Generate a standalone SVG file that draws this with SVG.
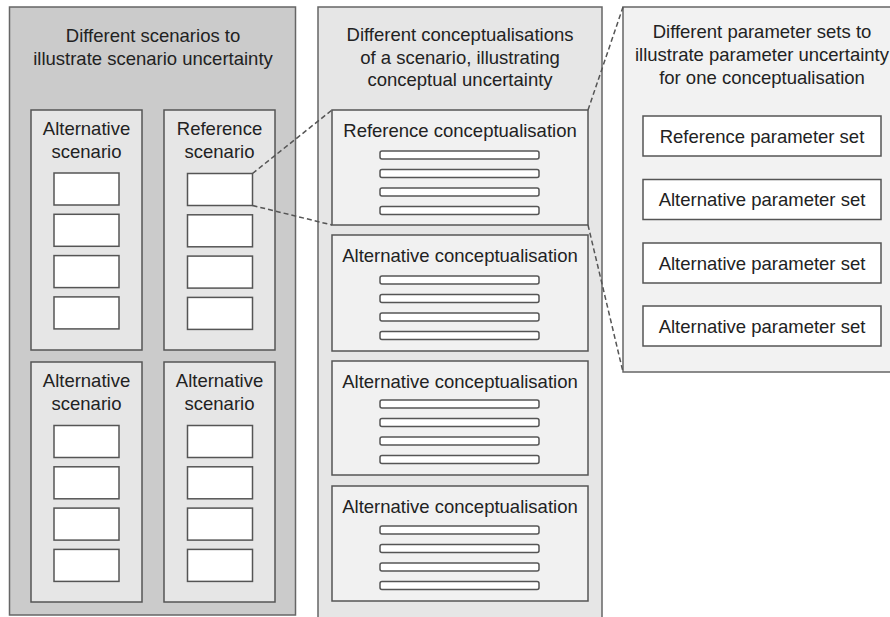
<svg xmlns="http://www.w3.org/2000/svg" width="890" height="617" viewBox="0 0 890 617">
<style>
text{font-family:"Liberation Sans",Arial,sans-serif;font-size:18.5px;fill:#222;text-anchor:middle}
.panelL{fill:#cbcbcb;stroke:#666;stroke-width:1.5}
.panelM{fill:#e6e6e6;stroke:#666;stroke-width:1.5}
.panelR{fill:#f2f2f2;stroke:#666;stroke-width:1.5}
.inL{fill:#e6e6e6;stroke:#555;stroke-width:1.5}
.inM{fill:#f1f1f1;stroke:#555;stroke-width:1.5}
.wb{fill:#fff;stroke:#555;stroke-width:1.5}
.bar{fill:#fff;stroke:#555;stroke-width:1.5}
.dash{fill:none;stroke:#555;stroke-width:1.5;stroke-dasharray:5 3}
</style>
<defs>
<g id="bars">
<rect class="bar" x="380" y="0" width="159" height="8" rx="2"/>
<rect class="bar" x="380" y="18.5" width="159" height="8" rx="2"/>
<rect class="bar" x="380" y="37" width="159" height="8" rx="2"/>
<rect class="bar" x="380" y="55.5" width="159" height="8" rx="2"/>
</g>
<g id="sbox">
<rect class="wb" x="0" y="0" width="65" height="32"/>
<rect class="wb" x="0" y="41.3" width="65" height="32"/>
<rect class="wb" x="0" y="82.6" width="65" height="32"/>
<rect class="wb" x="0" y="123.9" width="65" height="32"/>
</g>
</defs>

<g id="scenarios">
<rect class="panelL" x="9.5" y="7" width="286" height="608"/>
<text x="153" y="42">Different scenarios to</text>
<text x="153" y="65">illustrate scenario uncertainty</text>
</g>
<g id="alt-scenario-1">
<rect class="inL" x="31" y="110" width="111" height="240"/>
<text x="86.5" y="135">Alternative</text>
<text x="86.5" y="158">scenario</text>
<use href="#sbox" x="54" y="173"/>
</g>
<g id="ref-scenario">
<rect class="inL" x="164" y="110" width="111" height="240"/>
<text x="219.5" y="135">Reference</text>
<text x="219.5" y="158">scenario</text>
<use href="#sbox" x="187.5" y="173.5"/>
</g>
<g id="alt-scenario-2">
<rect class="inL" x="31" y="362" width="111" height="240"/>
<text x="86.5" y="387">Alternative</text>
<text x="86.5" y="410">scenario</text>
<use href="#sbox" x="54" y="425.5"/>
</g>
<g id="alt-scenario-3">
<rect class="inL" x="164" y="362" width="111" height="240"/>
<text x="219.5" y="387">Alternative</text>
<text x="219.5" y="410">scenario</text>
<use href="#sbox" x="187.5" y="425.5"/>
</g>

<g id="conceptualisations">
<rect class="panelM" x="318" y="7" width="284" height="620"/>
<text x="460" y="41">Different conceptualisations</text>
<text x="460" y="63.5">of a scenario, illustrating</text>
<text x="460" y="86">conceptual uncertainty</text>
</g>
<g id="ref-concept">
<rect class="inM" x="332" y="110" width="256" height="115"/>
<text x="460" y="137">Reference conceptualisation</text>
<use href="#bars" y="151"/>
</g>
<g id="alt-concept-1">
<rect class="inM" x="332" y="235" width="256" height="116"/>
<text x="460" y="262">Alternative conceptualisation</text>
<use href="#bars" y="276"/>
</g>
<g id="alt-concept-2">
<rect class="inM" x="332" y="361" width="256" height="114"/>
<text x="460" y="388">Alternative conceptualisation</text>
<use href="#bars" y="400"/>
</g>
<g id="alt-concept-3">
<rect class="inM" x="332" y="486" width="256" height="115"/>
<text x="460" y="513">Alternative conceptualisation</text>
<use href="#bars" y="526"/>
</g>

<g id="parameter-sets">
<rect class="panelR" x="623" y="7" width="290" height="365"/>
<text x="762" y="38">Different parameter sets to</text>
<text x="762" y="61">illustrate parameter uncertainty</text>
<text x="762" y="84">for one conceptualisation</text>
</g>
<g id="ref-param">
<rect class="wb" x="643" y="116" width="238" height="40"/>
<text x="762" y="142.5">Reference parameter set</text>
</g>
<g id="alt-param-1">
<rect class="wb" x="643" y="179.5" width="238" height="40"/>
<text x="762" y="206">Alternative parameter set</text>
</g>
<g id="alt-param-2">
<rect class="wb" x="643" y="243" width="238" height="40"/>
<text x="762" y="269.5">Alternative parameter set</text>
</g>
<g id="alt-param-3">
<rect class="wb" x="643" y="306" width="238" height="40"/>
<text x="762" y="332.5">Alternative parameter set</text>
</g>

<g id="connectors">
<line class="dash" x1="252.5" y1="173.5" x2="332" y2="110"/>
<line class="dash" x1="252.5" y1="205.5" x2="332" y2="225"/>
<line class="dash" x1="588" y1="110" x2="623" y2="7"/>
<line class="dash" x1="588" y1="225" x2="623" y2="372"/>
</g>
</svg>
